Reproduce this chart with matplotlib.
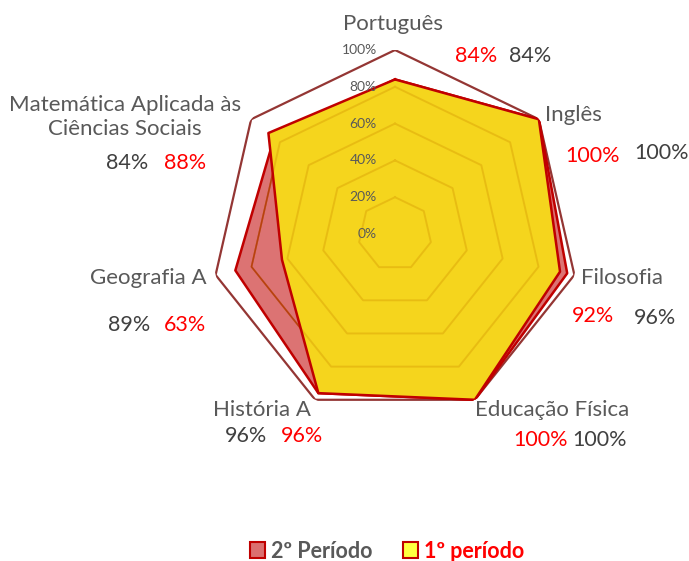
import numpy as np
import matplotlib
matplotlib.use("Agg")
import matplotlib.pyplot as plt
from matplotlib.patches import Patch
from matplotlib.transforms import offset_copy

plt.rcParams['font.family'] = ['Lato', 'DejaVu Sans']

categories = ["Português", "Inglês", "Filosofia", "Educação Física",
              "História A", "Geografia A", "Matemática Aplicada às\nCiências Sociais"]
periodo2 = [84, 100, 96, 100, 96, 89, 84]
periodo1 = [84, 100, 92, 100, 96, 63, 88]
series_names = ["2º Período", "1º período"]
radial_ticks = [0, 20, 40, 60, 80, 100]

W, H = 689, 561
fig = plt.figure(figsize=(W / 100, H / 100), dpi=100)
cx, cy, R = 395, 234, 184
ax = fig.add_axes([(cx - R) / W, (H - cy - R) / H, 2 * R / W, 2 * R / H], projection='polar')
ax.set_theta_zero_location('N')
ax.set_theta_direction(-1)
ax.set_ylim(0, 100)
ax.grid(False)
ax.spines['polar'].set_visible(False)
ax.set_xticks([])
ax.set_yticks([])
ax.patch.set_alpha(0)

n = len(categories)
theta = np.linspace(0, 2 * np.pi, n, endpoint=False)
th_c = np.append(theta, theta[0])

grid_col = '#943634'
for r in radial_ticks[1:]:
    ax.plot(th_c, [r] * (n + 1), color=grid_col, lw=1.6 if r == 100 else 1.2, zorder=1)

def closed(v):
    return np.append(v, v[0])

ax.fill(th_c, closed(periodo2), color='#C00000', alpha=0.55, lw=0, zorder=2)
ax.plot(th_c, closed(periodo2), color='#C00000', lw=1.8, zorder=3)
ax.fill(th_c, closed(periodo1), color='#F5D51D', lw=0, zorder=4)
# gridlines showing through the yellow fill
for r in radial_ticks[1:-1]:
    ax.plot(th_c, [r] * (n + 1), color='#D09000', alpha=0.35, lw=1.4, zorder=4.5)
ax.plot(th_c, closed(periodo1), color='#C00000', lw=1.8, zorder=5)

# radial tick labels
tr = offset_copy(ax.transData, fig=fig, x=-13, y=0, units='points')
for r in radial_ticks:
    ax.text(0, r, f"{r}%", transform=tr, ha='right', va='center',
            fontsize=10, color='#595959', zorder=6)

# category label positions (pixels)
cat_pos = [(393, 24), (573, 115), (622, 278), (552, 410), (262, 410), (148, 278), (125, 117)]
v1_pos = [(476, 56), (593, 156), (593, 316), (541, 440), (302, 436), (185, 325), (185, 163)]
v2_pos = [(530, 56), (662, 153), (655, 318), (600, 440), (246, 436), (129, 325), (127, 163)]

def fx(p):
    return p[0] / W, 1 - p[1] / H

for i, c in enumerate(categories):
    x, y = fx(cat_pos[i])
    fig.text(x, y, c, ha='center', va='center', fontsize=16, color='#595959',
             linespacing=1.3)
    x, y = fx(v1_pos[i])
    fig.text(x, y, f"{periodo1[i]}%", ha='center', va='center', fontsize=15.5, color='#FF0000')
    x, y = fx(v2_pos[i])
    fig.text(x, y, f"{periodo2[i]}%", ha='center', va='center', fontsize=15.5, color='#404040')

handles = [Patch(facecolor='#DB7070', edgecolor='#C00000', lw=1.5),
           Patch(facecolor='#FFFF40', edgecolor='#C00000', lw=1.5)]
leg = fig.legend(handles, series_names, loc='center', bbox_to_anchor=(387 / W, 1 - 551 / H),
                 ncol=2, frameon=False, handlelength=0.7, handleheight=0.7,
                 handletextpad=0.3, columnspacing=1.4,
                 prop={'size': 15.5, 'weight': 'bold'})
leg.get_texts()[0].set_color('#595959')
leg.get_texts()[1].set_color('#FF0000')

fig.savefig('out.png', dpi=100)
